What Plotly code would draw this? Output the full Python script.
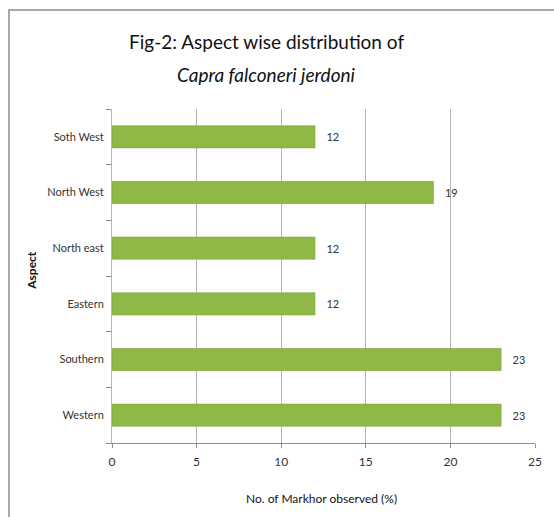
import plotly.graph_objects as go

aspects = ["Western", "Southern", "Eastern", "North east", "North West", "Soth West"]
values = [23, 23, 12, 12, 19, 12]
x_ticks = [0, 5, 10, 15, 20, 25]

FONT = "Lato"

fig = go.Figure()
fig.add_trace(go.Bar(
    x=values, y=aspects, orientation="h",
    marker=dict(color="#8fb846", line=dict(color="#7a9e3a", width=0.5)),
    text=["   " + str(v) for v in values], textposition="outside",
    textfont=dict(family=FONT, size=11, color="#333333"),
    cliponaxis=False,
))

fig.update_layout(
    width=554, height=517,
    margin=dict(l=112, r=15, t=109, b=74),
    paper_bgcolor="white", plot_bgcolor="white",
    bargap=0.6,
    showlegend=False,
    font=dict(family=FONT, color="#222222"),
    shapes=[dict(type="rect", xref="paper", yref="paper",
                 x0=-104/427, x1=(554+20-112)/427, y0=-100/334, y1=(334+99)/334,
                 line=dict(color="#8c8c8c", width=1.5))],
    annotations=[
        dict(text="Fig-2: Aspect wise distribution of", xref="paper", yref="paper",
             x=(268-112)/427, y=(443-42)/334, xanchor="center", yanchor="middle",
             showarrow=False, font=dict(family=FONT, size=19, color="#111111")),
        dict(text="<i>Capra falconeri jerdoni</i>", xref="paper", yref="paper",
             x=(268-112)/427, y=(443-74)/334, xanchor="center", yanchor="middle",
             showarrow=False, font=dict(family=FONT, size=19, color="#111111")),
        dict(text="<b>Aspect</b>", xref="paper", yref="paper", textangle=-90,
             x=(30-112)/427, y=(443-270)/334, xanchor="center", yanchor="middle",
             showarrow=False, font=dict(family=FONT, size=12, color="#111111")),
        dict(text="No. of Markhor observed (%)", xref="paper", yref="paper",
             x=(323-112)/427, y=(443-498)/334, xanchor="center", yanchor="middle",
             showarrow=False, font=dict(family=FONT, size=12, color="#111111")),
    ],
)

fig.update_xaxes(
    range=[0, 25], tickvals=x_ticks, ticktext=[str(t) for t in x_ticks],
    showgrid=True, gridcolor="#b5b5b5", gridwidth=1,
    showline=True, linecolor="#8c8c8c", linewidth=1,
    ticks="outside", ticklen=4, tickcolor="#8c8c8c",
    tickfont=dict(family=FONT, size=12, color="#333333"),
    ticklabelstandoff=4,
    zeroline=False, mirror=False,
)
fig.update_yaxes(
    categoryorder="array", categoryarray=aspects,
    showline=True, linecolor="#b5b5b5", linewidth=1,
    ticks="outside", tickson="boundaries", ticklen=5, tickcolor="#8c8c8c",
    tickfont=dict(family=FONT, size=11, color="#333333"),
    ticklabelstandoff=5,
    showgrid=False,
)

fig.write_html("out.html")
